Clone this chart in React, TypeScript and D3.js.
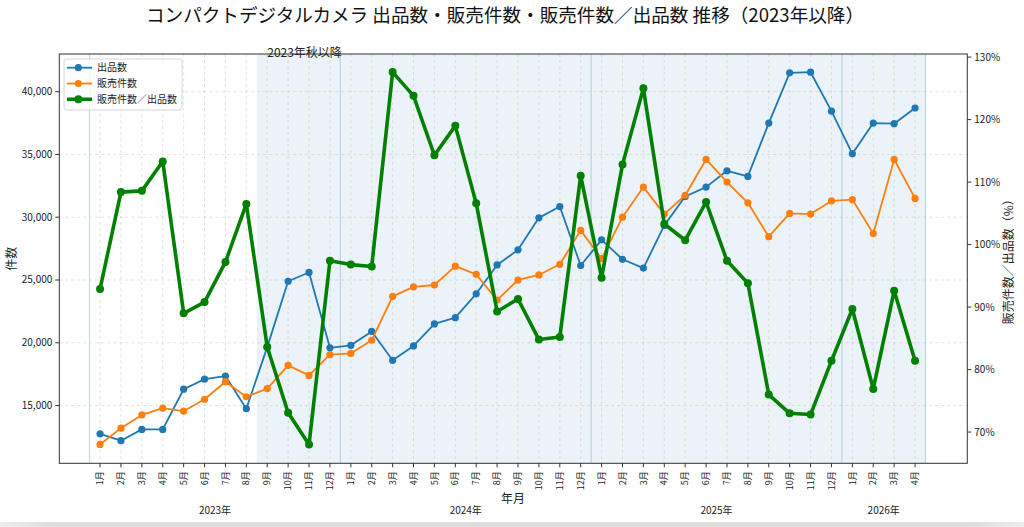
import { useEffect, useRef } from 'react'
import * as d3 from 'd3'

const MONTHS = [
  '2023-01', '2023-02', '2023-03', '2023-04', '2023-05', '2023-06', '2023-07', '2023-08', '2023-09', '2023-10', '2023-11', '2023-12',
  '2024-01', '2024-02', '2024-03', '2024-04', '2024-05', '2024-06', '2024-07', '2024-08', '2024-09', '2024-10', '2024-11', '2024-12',
  '2025-01', '2025-02', '2025-03', '2025-04', '2025-05', '2025-06', '2025-07', '2025-08', '2025-09', '2025-10', '2025-11', '2025-12',
  '2026-01', '2026-02', '2026-03', '2026-04',
]

// 出品数
const LISTINGS = [
  12750, 12200, 13100, 13100, 16300, 17100, 17350, 14750, 19650, 24900, 25600, 19600,
  19800, 20900, 18600, 19750, 21500, 22000, 23900, 26200, 27400, 29950, 30850, 26150,
  28200, 26650, 25950, 29350, 31650, 32400, 33700, 33250, 37500, 41500, 41550, 38450,
  35050, 37500, 37450, 38700,
]

// 販売件数
const SALES = [
  11900, 13200, 14250, 14800, 14550, 15500, 16900, 15700, 16350, 18200, 17400, 19050,
  19150, 20200, 23700, 24450, 24600, 26100, 25450, 23400, 25000, 25400, 26250, 28950,
  26700, 30000, 32400, 30250, 31750, 34600, 32800, 31150, 28450, 30300, 30250, 31300,
  31400, 28700, 34600, 31500,
]

// 販売件数／出品数 (%)
const RATIO = [
  92.9, 108.4, 108.6, 113.3, 89.0, 90.8, 97.2, 106.5, 83.6, 73.1, 68.0, 97.4,
  96.8, 96.5, 127.6, 123.8, 114.3, 119.0, 106.6, 89.3, 91.3, 84.8, 85.2, 111.0,
  94.7, 112.8, 125.0, 103.3, 100.7, 106.8, 97.4, 93.8, 76.0, 73.0, 72.8, 81.4,
  89.7, 76.9, 92.6, 81.4,
]

const LEFT_TICKS = [15000, 20000, 25000, 30000, 35000, 40000]
const RIGHT_TICKS = [70, 80, 90, 100, 110, 120, 130]
const SERIES_NAMES = ['出品数', '販売件数', '販売件数／出品数']
const TITLE = 'コンパクトデジタルカメラ 出品数・販売件数・販売件数／出品数 推移（2023年以降）'
const SHADE_LABEL = '2023年秋以降'
const SHADE_START = '2023-09'

const FONT = '"Noto Sans CJK JP", "Noto Sans", sans-serif'

export default function App() {
  const svgRef = useRef<SVGSVGElement>(null)

  useEffect(() => {
    const svg = d3.select(svgRef.current)
    svg.selectAll('*').remove()
    const W = 1024, H = 527
    const L = 59.3, R = 967.3, T = 54, B = 463.3

    svg.attr('width', W).attr('height', H)
    svg.append('rect').attr('width', W).attr('height', H).attr('fill', '#fff')

    const x = d3.scaleLinear().domain([-1.95, 41.5]).range([L, R])
    const yL = d3.scaleLinear().domain([10400, 43000]).range([B, T])
    const yR = d3.scaleLinear().domain([65, 130.5]).range([B, T])

    const g = svg.append('g')

    // shaded span
    const si = MONTHS.indexOf(SHADE_START)
    g.append('rect').attr('x', x(si - 0.5)).attr('y', T)
      .attr('width', x(MONTHS.length - 0.5) - x(si - 0.5)).attr('height', B - T)
      .attr('fill', '#1f77b4').attr('fill-opacity', 0.09)

    // year separators
    const years = Array.from(new Set(MONTHS.map((m) => m.slice(0, 4))))
    const bounds = years.map((y) => MONTHS.findIndex((m) => m.startsWith(y)) - 0.5).concat([MONTHS.length - 0.5])
    bounds.forEach((b) => {
      g.append('line').attr('x1', x(b)).attr('x2', x(b)).attr('y1', T).attr('y2', B)
        .attr('stroke', '#1f77b4').attr('stroke-opacity', 0.3).attr('stroke-width', 1)
    })

    // grid
    MONTHS.forEach((_, i) => {
      g.append('line').attr('x1', x(i)).attr('x2', x(i)).attr('y1', T).attr('y2', B)
        .attr('stroke', '#b0b0b0').attr('stroke-opacity', 0.45).attr('stroke-dasharray', '3,3').attr('stroke-width', 0.8)
    })
    LEFT_TICKS.forEach((v) => {
      g.append('line').attr('x1', L).attr('x2', R).attr('y1', yL(v)).attr('y2', yL(v))
        .attr('stroke', '#b0b0b0').attr('stroke-opacity', 0.45).attr('stroke-dasharray', '3,3').attr('stroke-width', 0.8)
    })

    // lines
    const idx = MONTHS.map((_, i) => i)
    const drawSeries = (vals: number[], y: d3.ScaleLinear<number, number>, color: string, lw: number, r: number) => {
      const line = d3.line<number>().x((i) => x(i)).y((i) => y(vals[i]))
      g.append('path').attr('d', line(idx)).attr('fill', 'none').attr('stroke', color)
        .attr('stroke-width', lw).attr('stroke-linejoin', 'round')
      idx.forEach((i) => {
        g.append('circle').attr('cx', x(i)).attr('cy', y(vals[i])).attr('r', r).attr('fill', color)
      })
    }
    drawSeries(LISTINGS, yL, '#1f77b4', 1.8, 3.6)
    drawSeries(SALES, yL, '#ff7f0e', 1.8, 3.6)
    drawSeries(RATIO, yR, '#008000', 3.6, 4.0)

    // frame
    g.append('rect').attr('x', L).attr('y', T).attr('width', R - L).attr('height', B - T)
      .attr('fill', 'none').attr('stroke', '#333').attr('stroke-width', 1)

    // left axis
    LEFT_TICKS.forEach((v) => {
      g.append('line').attr('x1', L - 4).attr('x2', L).attr('y1', yL(v)).attr('y2', yL(v)).attr('stroke', '#333')
      g.append('text').attr('x', L - 7).attr('y', yL(v)).attr('dy', '0.35em')
        .attr('text-anchor', 'end').attr('font-size', '10px').attr('font-family', FONT).attr('fill', '#222')
        .text(d3.format(',')(v))
    })
    g.append('text').attr('transform', `translate(16,${(T + B) / 2}) rotate(-90)`)
      .attr('text-anchor', 'middle').attr('font-size', '12px').attr('font-family', FONT).attr('fill', '#222')
      .text('件数')

    // right axis
    RIGHT_TICKS.forEach((v) => {
      g.append('line').attr('x1', R).attr('x2', R + 4).attr('y1', yR(v)).attr('y2', yR(v)).attr('stroke', '#333')
      g.append('text').attr('x', R + 7).attr('y', yR(v)).attr('dy', '0.35em')
        .attr('text-anchor', 'start').attr('font-size', '10px').attr('font-family', FONT).attr('fill', '#222')
        .text(`${v}%`)
    })
    g.append('text').attr('transform', `translate(1013,${(T + B) / 2}) rotate(-90)`)
      .attr('text-anchor', 'middle').attr('font-size', '12px').attr('font-family', FONT).attr('fill', '#222')
      .text('販売件数／出品数（%）')

    // x axis
    MONTHS.forEach((m, i) => {
      g.append('line').attr('x1', x(i)).attr('x2', x(i)).attr('y1', B).attr('y2', B + 4).attr('stroke', '#333')
      g.append('text').attr('transform', `translate(${x(i)},${B + 8}) rotate(-90)`).attr('dy', '0.35em')
        .attr('text-anchor', 'end').attr('font-size', '9px').attr('font-family', FONT).attr('fill', '#222')
        .text(`${+m.slice(5)}月`)
    })
    years.forEach((y) => {
      const ii = idx.filter((i) => MONTHS[i].startsWith(y))
      g.append('text').attr('x', x(d3.mean(ii) as number)).attr('y', 514)
        .attr('text-anchor', 'middle').attr('font-size', '10px').attr('font-family', FONT).attr('fill', '#222')
        .text(`${y}年`)
    })
    g.append('text').attr('x', 513).attr('y', 503)
      .attr('text-anchor', 'middle').attr('font-size', '12px').attr('font-family', FONT).attr('fill', '#222')
      .text('年月')

    // shade label
    g.append('text').attr('x', x(si)).attr('y', 53).attr('dy', '0.35em')
      .attr('font-size', '12px').attr('font-family', FONT).attr('fill', '#222')
      .text(SHADE_LABEL)

    // legend
    const lg = g.append('g').attr('transform', 'translate(64,59)')
    lg.append('rect').attr('width', 118).attr('height', 51).attr('rx', 2.5)
      .attr('fill', '#fff').attr('fill-opacity', 0.8).attr('stroke', '#ccc').attr('stroke-width', 0.8)
    const legendStyle = [
      { color: '#1f77b4', lw: 1.8, r: 3.6 },
      { color: '#ff7f0e', lw: 1.8, r: 3.6 },
      { color: '#008000', lw: 3.6, r: 4.0 },
    ]
    SERIES_NAMES.forEach((name, i) => {
      const cy = 8.7 + i * 15.8
      const s = legendStyle[i]
      lg.append('line').attr('x1', 3).attr('x2', 28).attr('y1', cy).attr('y2', cy)
        .attr('stroke', s.color).attr('stroke-width', s.lw)
      lg.append('circle').attr('cx', 14.3).attr('cy', cy).attr('r', s.r).attr('fill', s.color)
      lg.append('text').attr('x', 33).attr('y', cy).attr('dy', '0.35em')
        .attr('font-size', '10px').attr('font-family', FONT).attr('fill', '#222').text(name)
    })

    // title
    svg.append('text').attr('x', 505).attr('y', 22).attr('text-anchor', 'middle')
      .attr('font-size', '18.6px').attr('font-family', FONT).attr('fill', '#111').text(TITLE)

    // bottom bar
    const grad = svg.append('defs').append('linearGradient').attr('id', 'bar')
    grad.append('stop').attr('offset', '0').attr('stop-color', '#eee')
    grad.append('stop').attr('offset', '0.05').attr('stop-color', '#ddd')
    grad.append('stop').attr('offset', '0.95').attr('stop-color', '#ddd')
    grad.append('stop').attr('offset', '1').attr('stop-color', '#eee')
    svg.append('rect').attr('x', 0).attr('y', 522).attr('width', W).attr('height', 5).attr('fill', 'url(#bar)')
  }, [])

  return (
    <div style={{ position: 'fixed', left: 0, top: 0 }}>
      <svg ref={svgRef} style={{ display: 'block' }} />
    </div>
  )
}
